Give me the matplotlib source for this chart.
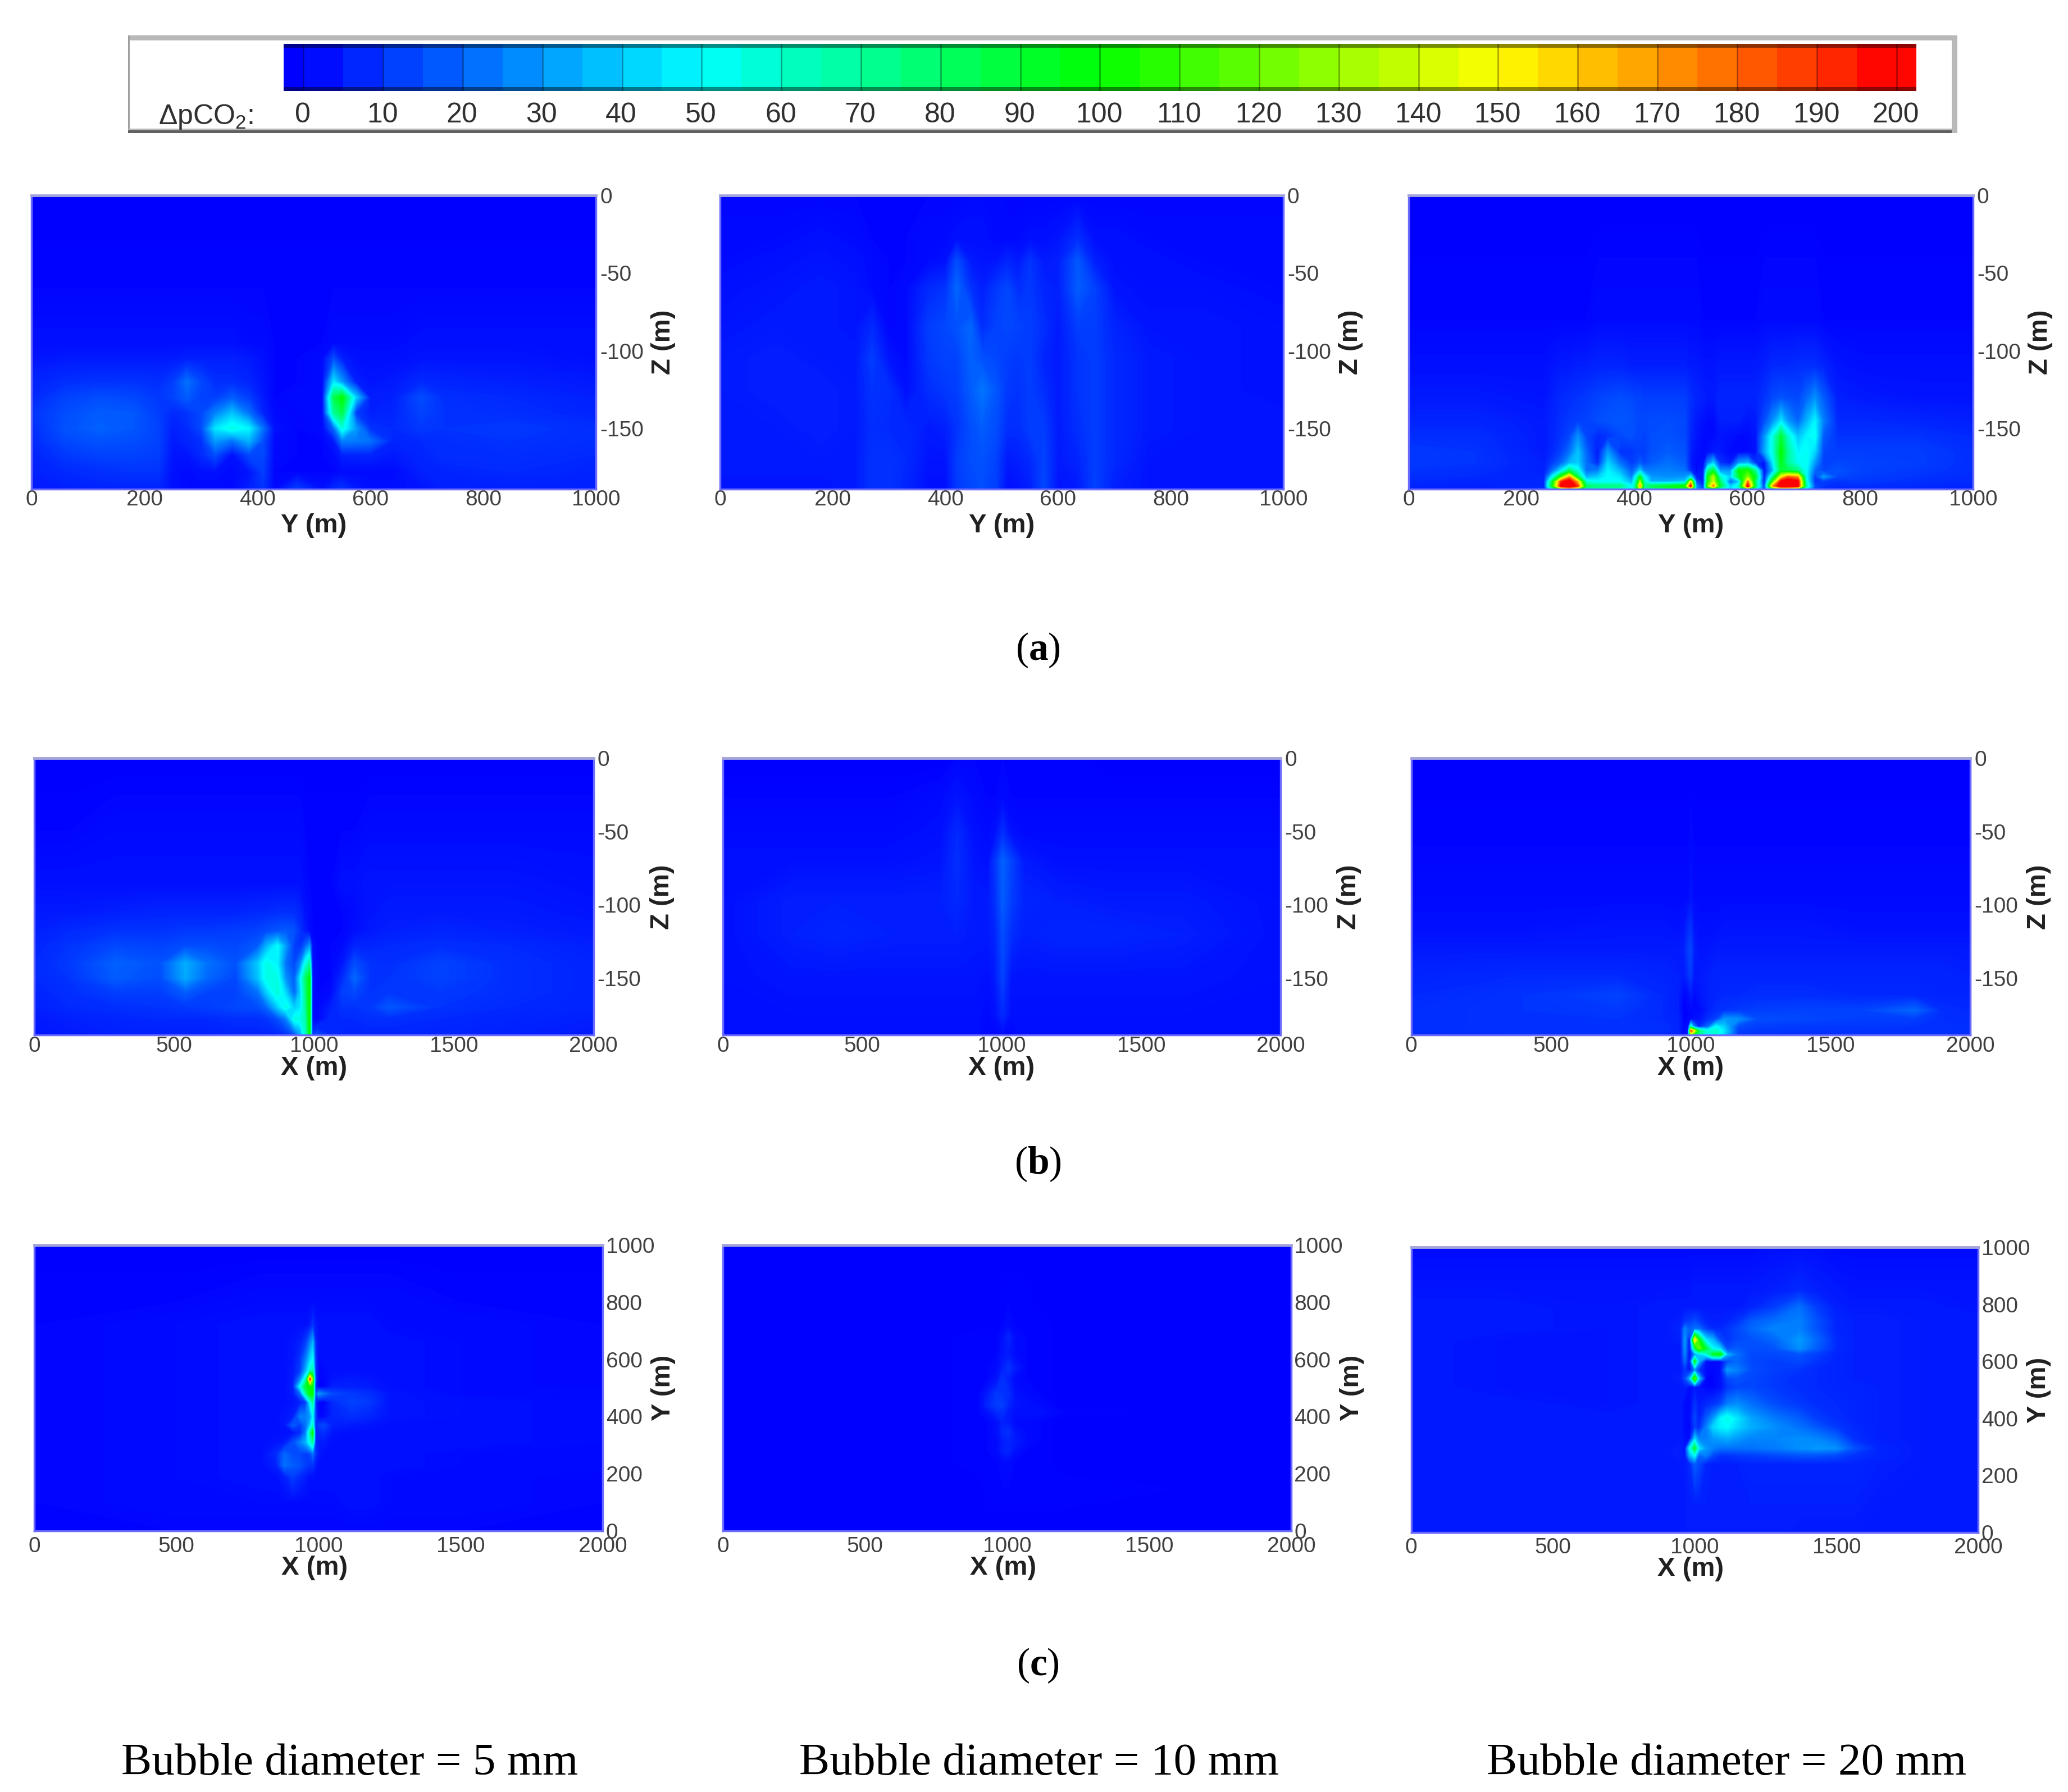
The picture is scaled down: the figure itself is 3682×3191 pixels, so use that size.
import numpy as np
import matplotlib
matplotlib.use("Agg")
import matplotlib.pyplot as plt
from matplotlib.colors import LinearSegmentedColormap
from matplotlib.patches import Rectangle

plt.rcParams['font.family'] = ['Liberation Sans', 'DejaVu Sans']
plt.rcParams['mathtext.fontset'] = 'custom'
plt.rcParams['mathtext.rm'] = 'Liberation Serif'
plt.rcParams['mathtext.bf'] = 'Liberation Serif:bold'
plt.rcParams['mathtext.default'] = 'regular'

# colour bar
bar_edges = np.arange(-2.5, 205, 5)
bar_edges[1:-1] = np.arange(0, 205, 5)[:len(bar_edges) - 2]
bar_ticks = list(range(0, 210, 10))

y_ticks = [0, 200, 400, 600, 800, 1000]
x_ticks = [0, 500, 1000, 1500, 2000]
z_ticks = [0, -50, -100, -150]
z_labels = ['0', '-50', '-100', '-150']

# row (a), bubble 5 mm: Y across, depth down
a1_x = [0, 60, 120, 180, 225, 250, 275, 300, 325, 355, 385, 410, 430, 470, 515, 535, 550, 575, 600, 640, 690, 730, 850, 1000]
a1_z = [0, -60, -95, -105, -120, -130, -140, -150, -158, -167, -178, -189]
a1_v = [
    [0, 0, 0, 0, 0, 0, 0, 0, 0, 0, 0, 0, 0, 0, 0, 0, 0, 0, 0, 0, 0, 0, 0, 0],
    [1, 1, 1, 1, 1, 1, 1, 1, 1, 1, 1, 1, 1, 1, 1, 1, 1, 1, 1, 1, 1, 1, 1, 1],
    [3, 3, 3, 3, 3, 3, 3, 3, 3, 3, 2, 2, 1, 1, 1, 2, 2, 2, 2, 2, 3, 3, 3, 3],
    [4, 5, 5, 5, 5, 5, 6, 6, 6, 6, 5, 3, 1, 1, 2, 15, 6, 3, 3, 3, 4, 4, 4, 3],
    [7, 9, 10, 10, 9, 12, 22, 14, 9, 9, 7, 4, 1, 1, 2, 45, 30, 6, 4, 5, 8, 7, 6, 5],
    [8, 13, 15, 14, 11, 13, 18, 13, 12, 18, 12, 5, 1, 2, 2, 85, 100, 40, 6, 6, 15, 9, 8, 6],
    [10, 15, 18, 17, 12, 8, 10, 14, 25, 38, 22, 7, 2, 1, 2, 70, 85, 12, 6, 7, 13, 10, 9, 7],
    [9, 16, 19, 17, 13, 6, 8, 14, 45, 55, 48, 22, 3, 1, 2, 20, 55, 30, 10, 8, 11, 10, 11, 9],
    [8, 14, 16, 15, 13, 5, 7, 9, 30, 22, 35, 15, 2, 1, 1, 5, 25, 24, 22, 7, 8, 9, 10, 9],
    [7, 11, 13, 13, 12, 4, 4, 8, 15, 3, 14, 14, 2, 1, 1, 2, 6, 7, 7, 5, 7, 9, 9, 8],
    [6, 8, 9, 10, 10, 3, 2, 3, 3, 2, 4, 12, 1, 1, 1, 1, 2, 2, 2, 2, 6, 7, 8, 7],
    [5, 6, 7, 7, 7, 3, 2, 2, 2, 2, 6, 10, 2, 12, 3, 8, 10, 5, 3, 3, 4, 6, 6, 6],
]

# row (a), bubble 10 mm
a2_x = [0, 100, 180, 240, 270, 300, 330, 370, 400, 420, 445, 465, 490, 510, 530, 550, 575, 600, 635, 665, 700, 760, 850, 1000]
a2_z = [0, -28, -42, -60, -85, -105, -125, -150, -170, -189]
a2_v = [
    [1, 1, 1, 1, 1, 1, 1, 1, 1, 1, 2, 2, 2, 1, 1, 1, 1, 1, 1, 1, 1, 1, 1, 1],
    [2, 2, 3, 2, 1, 1, 1, 2, 2, 3, 3, 3, 2, 2, 2, 3, 3, 4, 9, 3, 3, 2, 2, 2],
    [2, 3, 4, 3, 2, 1, 1, 2, 3, 15, 5, 4, 4, 7, 5, 10, 5, 6, 17, 6, 3, 3, 2, 2],
    [3, 4, 5, 4, 2, 1, 2, 8, 10, 20, 10, 6, 11, 14, 9, 11, 7, 6, 18, 13, 4, 3, 3, 2],
    [4, 5, 5, 4, 8, 1, 2, 12, 14, 16, 20, 9, 13, 14, 13, 12, 9, 5, 12, 12, 7, 4, 4, 3],
    [5, 6, 5, 5, 12, 4, 2, 11, 13, 13, 19, 16, 14, 12, 11, 12, 7, 5, 10, 12, 8, 5, 4, 3],
    [5, 6, 6, 5, 10, 9, 3, 9, 11, 12, 18, 23, 17, 11, 10, 12, 9, 5, 10, 12, 8, 5, 4, 3],
    [5, 5, 6, 5, 9, 8, 8, 5, 6, 10, 15, 18, 15, 9, 9, 12, 12, 5, 9, 12, 8, 5, 4, 4],
    [5, 5, 5, 5, 10, 10, 8, 4, 4, 12, 15, 16, 13, 5, 6, 8, 13, 5, 7, 12, 8, 4, 4, 4],
    [4, 4, 4, 5, 10, 10, 7, 3, 3, 11, 14, 15, 12, 3, 4, 6, 14, 4, 5, 13, 6, 4, 4, 4],
]

# row (a), bubble 20 mm
a3_x = [0, 120, 240, 255, 270, 285, 300, 315, 335, 353, 375, 395, 402, 410, 418, 430, 460, 490, 500, 510, 522, 530, 540, 552, 570, 585, 601, 615, 630, 645, 660, 672, 690, 705, 720, 735, 760, 800, 900, 1000]
a3_z = [0, -80, -110, -130, -145, -155, -165, -172, -177, -181, -184, -187, -189]
a3_v = [
    [0, 0, 0, 0, 0, 0, 0, 0, 0, 0, 0, 0, 0, 0, 0, 0, 0, 0, 0, 0, 0, 0, 0, 0, 0, 0, 0, 0, 0, 0, 0, 0, 0, 0, 0, 0, 0, 0, 0, 0],
    [1, 1, 1, 1, 1, 1, 1, 1, 2, 2, 2, 2, 2, 2, 2, 2, 2, 2, 2, 2, 1, 1, 1, 1, 1, 1, 1, 1, 2, 2, 2, 2, 2, 2, 2, 1, 1, 1, 1, 1],
    [3, 3, 3, 4, 5, 5, 6, 6, 7, 7, 7, 6, 6, 6, 6, 6, 6, 6, 5, 5, 4, 4, 4, 5, 5, 5, 5, 5, 6, 8, 8, 8, 9, 9, 9, 7, 4, 3, 3, 3],
    [5, 5, 4, 6, 8, 9, 10, 11, 13, 14, 15, 14, 13, 13, 12, 12, 12, 12, 9, 7, 6, 5, 5, 7, 7, 7, 7, 7, 10, 14, 16, 15, 14, 20, 28, 18, 6, 5, 4, 4],
    [7, 7, 5, 7, 9, 11, 12, 13, 15, 16, 17, 16, 15, 14, 14, 15, 15, 14, 8, 5, 3, 2, 2, 6, 6, 6, 4, 5, 15, 28, 45, 30, 20, 35, 48, 25, 8, 8, 7, 6],
    [9, 9, 5, 7, 10, 14, 28, 14, 8, 10, 14, 16, 14, 14, 13, 15, 16, 14, 7, 4, 2, 2, 2, 4, 3, 2, 2, 4, 28, 55, 90, 60, 38, 48, 52, 18, 10, 10, 10, 8],
    [11, 10, 5, 8, 13, 22, 38, 20, 5, 30, 10, 10, 12, 12, 12, 16, 18, 16, 6, 3, 2, 3, 5, 5, 2, 2, 2, 3, 32, 55, 100, 70, 48, 52, 42, 14, 12, 12, 12, 9],
    [11, 10, 6, 12, 20, 35, 40, 22, 8, 42, 22, 12, 14, 18, 14, 18, 22, 18, 5, 2, 3, 25, 40, 10, 5, 30, 35, 10, 3, 45, 95, 70, 52, 52, 30, 12, 14, 13, 12, 9],
    [10, 9, 6, 22, 45, 80, 55, 22, 25, 48, 35, 18, 25, 40, 25, 24, 25, 22, 8, 2, 5, 70, 90, 30, 30, 100, 105, 70, 3, 35, 90, 85, 75, 50, 20, 14, 16, 13, 11, 9],
    [9, 8, 7, 50, 110, 170, 85, 35, 40, 50, 45, 25, 50, 90, 50, 30, 28, 30, 45, 5, 6, 100, 135, 60, 40, 90, 125, 90, 4, 70, 150, 180, 170, 50, 12, 30, 14, 12, 10, 8],
    [8, 7, 8, 90, 190, 210, 160, 55, 50, 50, 50, 35, 60, 130, 60, 35, 35, 40, 150, 15, 5, 100, 140, 80, 20, 40, 175, 75, 5, 110, 205, 215, 205, 55, 10, 12, 10, 11, 9, 8],
    [7, 6, 8, 100, 205, 215, 190, 80, 75, 75, 75, 50, 70, 170, 70, 85, 95, 105, 205, 30, 10, 120, 175, 90, 40, 60, 205, 80, 10, 170, 215, 215, 205, 65, 15, 10, 8, 9, 8, 7],
    [7, 6, 10, 60, 110, 140, 110, 70, 70, 65, 60, 50, 70, 120, 70, 70, 80, 85, 110, 30, 15, 70, 80, 60, 45, 55, 110, 60, 15, 80, 120, 120, 100, 45, 15, 9, 8, 8, 8, 7],
]

# row (b), bubble 5 mm: X across, depth down
b1_x = [0, 120, 290, 450, 540, 620, 720, 800, 830, 870, 900, 930, 950, 970, 985, 995, 1010, 1060, 1100, 1145, 1200, 1267, 1450, 1700, 2000]
b1_z = [0, -50, -85, -105, -118, -128, -140, -150, -160, -170, -178, -189]
b1_v = [
    [0, 0, 0, 0, 0, 0, 0, 0, 0, 0, 0, 0, 0, 0, 0, 0, 0, 0, 0, 0, 0, 0, 0, 0, 0],
    [1, 1, 2, 2, 2, 2, 2, 2, 2, 2, 2, 2, 2, 1, 1, 1, 1, 1, 1, 1, 2, 2, 2, 2, 2],
    [3, 3, 3, 3, 3, 3, 3, 3, 3, 3, 3, 3, 3, 2, 1, 1, 1, 1, 3, 3, 4, 4, 4, 4, 3],
    [5, 5, 6, 7, 7, 7, 7, 8, 8, 9, 9, 9, 7, 3, 2, 1, 1, 1, 1, 2, 4, 5, 5, 5, 4],
    [6, 8, 10, 10, 11, 11, 12, 13, 15, 17, 18, 16, 10, 5, 2, 1, 1, 1, 1, 3, 5, 6, 7, 6, 5],
    [7, 10, 14, 13, 15, 15, 14, 18, 35, 50, 30, 12, 10, 20, 30, 3, 1, 1, 2, 7, 7, 8, 9, 8, 6],
    [8, 11, 19, 16, 34, 22, 16, 40, 55, 48, 22, 14, 25, 55, 70, 2, 1, 1, 4, 15, 10, 9, 13, 9, 7],
    [8, 10, 18, 15, 33, 20, 14, 38, 55, 55, 28, 18, 45, 80, 100, 3, 1, 1, 8, 20, 10, 10, 13, 9, 7],
    [7, 9, 12, 12, 18, 13, 13, 22, 40, 58, 42, 20, 40, 75, 105, 3, 1, 2, 12, 14, 10, 11, 11, 9, 7],
    [6, 8, 9, 10, 11, 12, 14, 15, 20, 40, 55, 40, 45, 70, 105, 2, 1, 6, 10, 10, 11, 17, 10, 8, 7],
    [5, 6, 7, 8, 8, 8, 9, 9, 10, 15, 25, 55, 55, 65, 105, 3, 1, 8, 8, 8, 9, 9, 8, 7, 6],
    [4, 5, 6, 6, 6, 6, 7, 7, 7, 7, 9, 15, 30, 60, 100, 10, 15, 8, 7, 7, 7, 7, 7, 6, 5],
]

# row (b), bubble 10 mm
b2_x = [0, 250, 400, 600, 780, 840, 900, 950, 975, 1003, 1035, 1080, 1200, 1400, 1650, 2000]
b2_z = [0, -27, -51, -70, -98, -120, -150, -175, -189]
b2_v = [
    [0, 0, 0, 0, 0, 1, 1, 1, 1, 1, 1, 1, 1, 0, 0, 0],
    [1, 1, 1, 1, 2, 4, 2, 1, 1, 2, 1, 1, 1, 1, 1, 1],
    [2, 2, 2, 2, 3, 8, 3, 2, 3, 9, 3, 2, 2, 2, 2, 2],
    [3, 3, 3, 3, 4, 9, 4, 3, 10, 19, 13, 5, 3, 3, 3, 3],
    [3, 6, 6, 6, 6, 8, 5, 5, 9, 18, 12, 7, 6, 5, 5, 3],
    [3, 6, 7, 6, 6, 6, 5, 5, 7, 15, 9, 6, 7, 7, 6, 3],
    [3, 4, 4, 4, 4, 4, 4, 3, 5, 13, 4, 4, 4, 4, 4, 3],
    [3, 3, 3, 3, 3, 3, 3, 2, 3, 8, 3, 3, 3, 3, 3, 3],
    [3, 3, 3, 3, 3, 3, 3, 1, 1, 2, 1, 3, 3, 3, 3, 3],
]

# row (b), bubble 20 mm
b3_x = [0, 400, 740, 900, 955, 975, 990, 1000, 1012, 1030, 1060, 1090, 1120, 1170, 1240, 1400, 1600, 1800, 1900, 2000]
b3_z = [0, -60, -95, -115, -130, -148, -162, -172, -178, -183, -186, -189]
b3_v = [
    [0, 0, 0, 0, 0, 0, 0, 0, 0, 0, 0, 0, 0, 0, 0, 0, 0, 0, 0, 0],
    [1, 1, 1, 1, 1, 1, 1, 2, 1, 1, 1, 1, 1, 1, 1, 1, 1, 1, 1, 1],
    [2, 2, 2, 2, 2, 2, 2, 4, 2, 2, 2, 2, 2, 2, 2, 2, 2, 2, 2, 2],
    [3, 3, 4, 4, 3, 4, 8, 10, 4, 3, 3, 3, 4, 4, 4, 4, 3, 3, 3, 3],
    [5, 5, 5, 5, 5, 6, 12, 14, 6, 4, 4, 5, 5, 5, 5, 5, 5, 5, 5, 5],
    [7, 8, 8, 7, 6, 5, 9, 12, 5, 5, 6, 7, 7, 7, 7, 7, 7, 7, 7, 6],
    [8, 10, 13, 8, 6, 1, 2, 5, 2, 4, 6, 7, 8, 8, 9, 9, 8, 8, 7, 7],
    [9, 10, 11, 8, 6, 0, 1, 2, 2, 2, 6, 9, 10, 11, 12, 13, 13, 20, 9, 8],
    [9, 10, 10, 8, 7, 1, 1, 2, 3, 4, 9, 13, 30, 28, 15, 14, 12, 12, 9, 9],
    [9, 10, 10, 9, 7, 1, 3, 60, 25, 8, 20, 50, 40, 15, 12, 11, 11, 10, 10, 9],
    [9, 10, 10, 9, 7, 1, 5, 190, 150, 80, 55, 60, 45, 12, 11, 10, 10, 10, 10, 9],
    [9, 9, 9, 8, 7, 1, 8, 120, 90, 70, 50, 60, 40, 11, 10, 10, 10, 9, 9, 9],
]

# row (c), bubble 5 mm: plan view
c1_x = [0, 500, 800, 850, 880, 910, 935, 955, 970, 980, 990, 1000, 1020, 1050, 1115, 1180, 1250, 1500, 2000]
c1_y = [1000, 800, 720, 660, 600, 560, 531, 505, 480, 450, 400, 370, 344, 310, 270, 230, 190, 100, 0]
c1_v = [
    [0, 0, 0, 0, 0, 0, 0, 0, 0, 0, 0, 0, 0, 0, 0, 0, 0, 0, 0],
    [1, 1, 2, 2, 2, 2, 2, 2, 2, 2, 2, 2, 2, 2, 2, 2, 2, 1, 1],
    [1, 2, 3, 3, 3, 3, 3, 3, 5, 10, 5, 3, 3, 3, 3, 3, 2, 2, 1],
    [1, 2, 3, 3, 3, 4, 6, 12, 25, 35, 8, 3, 3, 3, 3, 3, 3, 2, 1],
    [1, 2, 3, 3, 3, 4, 10, 25, 42, 50, 10, 2, 3, 3, 3, 3, 3, 2, 1],
    [1, 2, 3, 3, 3, 5, 12, 35, 60, 70, 10, 2, 2, 3, 3, 3, 3, 2, 1],
    [1, 2, 3, 3, 3, 5, 25, 60, 190, 120, 12, 1, 1, 4, 5, 4, 3, 2, 1],
    [1, 2, 3, 3, 3, 6, 50, 90, 100, 100, 8, 1, 1, 6, 6, 5, 3, 2, 1],
    [1, 2, 3, 3, 3, 5, 20, 70, 100, 100, 15, 30, 22, 14, 11, 9, 4, 2, 2],
    [1, 2, 3, 3, 3, 4, 6, 12, 50, 70, 8, 1, 1, 8, 13, 11, 4, 3, 2],
    [1, 2, 3, 3, 4, 6, 25, 25, 30, 48, 12, 1, 2, 7, 9, 7, 4, 3, 2],
    [1, 2, 3, 3, 4, 18, 12, 22, 40, 60, 8, 12, 14, 6, 5, 4, 3, 3, 2],
    [1, 2, 3, 3, 3, 4, 8, 25, 70, 100, 8, 8, 9, 4, 3, 3, 3, 3, 2],
    [1, 2, 3, 4, 5, 15, 25, 35, 55, 70, 8, 5, 5, 3, 3, 3, 3, 3, 2],
    [1, 2, 3, 8, 20, 15, 14, 12, 14, 22, 10, 5, 3, 3, 3, 3, 3, 2, 2],
    [1, 2, 3, 6, 22, 18, 16, 12, 10, 10, 5, 3, 3, 3, 3, 3, 3, 2, 2],
    [1, 2, 3, 3, 6, 12, 8, 5, 3, 3, 3, 3, 3, 3, 3, 3, 2, 2, 1],
    [1, 2, 2, 2, 2, 2, 2, 2, 2, 2, 2, 2, 2, 2, 3, 3, 2, 2, 1],
    [1, 1, 1, 1, 1, 1, 1, 1, 1, 1, 1, 1, 1, 1, 1, 1, 1, 1, 1],
]

# row (c), bubble 10 mm
c2_x = [0, 700, 900, 930, 965, 985, 1005, 1030, 1070, 1120, 1200, 2000]
c2_y = [1000, 800, 720, 680, 620, 570, 530, 480, 440, 415, 380, 347, 310, 280, 240, 150, 0]
c2_v = [
    [0, 0, 0, 0, 0, 0, 0, 0, 0, 0, 0, 0],
    [0, 0, 0, 0, 0, 1, 1, 1, 1, 0, 0, 0],
    [0, 0, 0, 0, 0, 1, 2, 1, 1, 1, 0, 0],
    [0, 0, 1, 1, 1, 3, 7, 2, 1, 1, 0, 0],
    [0, 0, 1, 1, 1, 4, 5, 2, 1, 1, 0, 0],
    [0, 0, 1, 1, 2, 6, 10, 5, 1, 1, 0, 0],
    [0, 0, 1, 1, 4, 10, 6, 2, 1, 1, 0, 0],
    [0, 0, 1, 5, 11, 10, 9, 3, 2, 1, 0, 0],
    [0, 0, 1, 7, 12, 12, 7, 4, 3, 2, 0, 0],
    [0, 0, 1, 3, 8, 9, 5, 3, 3, 3, 1, 0],
    [0, 0, 1, 1, 3, 6, 5, 2, 2, 1, 0, 0],
    [0, 0, 1, 1, 3, 8, 9, 4, 2, 1, 0, 0],
    [0, 0, 1, 1, 2, 5, 7, 5, 2, 1, 0, 0],
    [0, 0, 1, 1, 2, 6, 7, 3, 1, 1, 0, 0],
    [0, 0, 1, 1, 1, 2, 2, 1, 1, 1, 0, 0],
    [0, 0, 0, 1, 1, 1, 1, 1, 1, 1, 1, 0],
    [0, 0, 0, 0, 0, 0, 0, 0, 0, 0, 0, 0],
]

# row (c), bubble 20 mm
c3_x = [0, 300, 700, 900, 950, 965, 982, 1000, 1015, 1040, 1065, 1090, 1115, 1150, 1200, 1280, 1370, 1430, 1500, 1560, 1650, 1800, 2000]
c3_y = [1000, 850, 790, 740, 715, 676, 645, 625, 600, 570, 540, 510, 450, 400, 370, 330, 295, 270, 240, 100, 0]
c3_v = [
    [2, 2, 2, 2, 2, 2, 2, 2, 2, 2, 2, 2, 2, 2, 2, 3, 3, 3, 2, 2, 2, 2, 2],
    [4, 4, 4, 4, 4, 4, 4, 5, 5, 5, 5, 5, 5, 5, 5, 6, 8, 6, 5, 4, 4, 4, 4],
    [5, 5, 4, 5, 5, 5, 5, 5, 5, 5, 5, 5, 5, 5, 7, 12, 22, 12, 6, 5, 5, 5, 4],
    [5, 5, 4, 5, 6, 10, 12, 15, 12, 7, 6, 6, 7, 10, 18, 22, 25, 16, 7, 6, 6, 5, 5],
    [5, 5, 4, 5, 7, 25, 18, 22, 22, 12, 8, 8, 10, 14, 20, 26, 25, 16, 7, 6, 6, 5, 5],
    [5, 4, 4, 5, 6, 30, 2, 160, 100, 45, 35, 15, 10, 14, 16, 20, 30, 20, 8, 6, 6, 5, 5],
    [5, 4, 4, 5, 5, 28, 2, 80, 120, 90, 50, 42, 15, 18, 15, 16, 28, 18, 8, 6, 6, 5, 5],
    [5, 4, 4, 5, 5, 25, 1, 30, 40, 55, 95, 100, 35, 22, 14, 14, 16, 12, 7, 6, 6, 5, 5],
    [5, 4, 4, 5, 5, 20, 2, 95, 35, 3, 2, 2, 15, 20, 14, 12, 14, 10, 7, 6, 6, 5, 5],
    [5, 4, 4, 5, 5, 10, 3, 25, 10, 2, 1, 3, 30, 25, 15, 12, 10, 8, 7, 6, 6, 5, 5],
    [5, 4, 4, 5, 6, 14, 35, 120, 40, 1, 1, 3, 14, 16, 14, 11, 9, 8, 7, 6, 6, 5, 5],
    [5, 4, 4, 5, 5, 6, 2, 5, 4, 1, 1, 3, 10, 14, 14, 11, 9, 8, 7, 7, 6, 5, 5],
    [5, 5, 4, 5, 5, 2, 1, 10, 5, 8, 10, 14, 25, 28, 22, 15, 11, 9, 8, 7, 6, 5, 5],
    [5, 5, 5, 5, 5, 2, 2, 14, 6, 18, 30, 48, 55, 45, 32, 24, 18, 12, 9, 7, 6, 5, 5],
    [5, 5, 5, 5, 5, 2, 1, 12, 8, 25, 42, 48, 50, 42, 34, 28, 22, 17, 11, 8, 6, 5, 5],
    [5, 5, 5, 5, 5, 3, 2, 40, 25, 25, 30, 32, 34, 30, 26, 26, 28, 26, 20, 9, 6, 5, 5],
    [5, 5, 5, 5, 6, 4, 50, 90, 45, 30, 25, 22, 22, 22, 22, 24, 28, 30, 28, 16, 7, 5, 5],
    [5, 5, 5, 5, 6, 4, 35, 50, 20, 25, 14, 10, 10, 11, 12, 14, 16, 16, 14, 10, 7, 5, 5],
    [5, 5, 5, 5, 5, 5, 8, 18, 14, 7, 6, 6, 6, 6, 7, 7, 7, 7, 7, 7, 6, 5, 5],
    [5, 5, 5, 5, 5, 5, 6, 6, 6, 6, 6, 6, 6, 6, 6, 6, 6, 6, 6, 6, 5, 5, 5],
    [5, 5, 5, 5, 5, 5, 6, 6, 6, 6, 6, 6, 6, 6, 6, 6, 5, 5, 5, 5, 5, 5, 5],
]

W, H = 3682, 3191
S = W / 1568

cmap = LinearSegmentedColormap.from_list('dpco2', ['#0000ff', '#00ffff', '#00ff00', '#ffff00', '#ff0000'], N=512)
levels = np.arange(0, 200.5, 0.5)

fig = plt.figure(figsize=(W / 100, H / 100), dpi=100, facecolor='white')


def box(x0, y0, x1, y1):
    return [x0 * S / W, 1 - y1 * S / H, (x1 - x0) * S / W, (y1 - y0) * S / H]


def fig_text(x, y, s, **kw):
    fig.text(x * S / W, 1 - y * S / H, s, ha='center', va='center', **kw)


def fig_rect(x0, y0, x1, y1, color):
    b = box(x0, y0, x1, y1)
    fig.add_artist(Rectangle((b[0], b[1]), b[2], b[3], transform=fig.transFigure, color=color, lw=0))


# legend frame
fig_rect(97, 27, 1484, 30.5, '#b8b8b8')
fig_rect(97, 27, 98.5, 100.5, '#a0a0a0')
fig_rect(97, 97.5, 1484, 99, '#b8b8b8')
fig_rect(97, 99, 1484, 100.8, '#606060')
fig_rect(1480, 27, 1484, 100.8, '#b8b8b8')

ax_bar = fig.add_axes(box(215, 33.2, 1453, 69))
bar_mid = (bar_edges[:-1] + bar_edges[1:]) / 2
ax_bar.pcolormesh(bar_edges, [0, 1], [bar_mid], cmap=cmap, vmin=0, vmax=200)
ax_bar.vlines(bar_ticks, 0, 1, color='black', alpha=0.35, lw=1.8)
ax_bar.axhspan(0, 0.08, color='black', alpha=0.45, lw=0)
ax_bar.axhspan(0.92, 1, color='black', alpha=0.45, lw=0)
ax_bar.set_xlim(bar_edges[0], bar_edges[-1])
ax_bar.set_ylim(0, 1)
ax_bar.axis('off')

bar_pos = 229.5 + np.array(bar_ticks) * 6.04
for t, px in zip(bar_ticks, bar_pos):
    fig_text(px, 87.5, str(t), fontsize=36, color='#303030')
fig_text(156, 88.5, 'ΔpCO$_{2}$:', fontsize=36, color='#303030')

panels = [
    (a1_x, a1_z, a1_v, (24, 148, 452, 371), 'Y (m)', 'Z (m)', 398.5, 51),
    (a2_x, a2_z, a2_v, (546, 148, 973, 371), 'Y (m)', 'Z (m)', 398.5, 51),
    (a3_x, a3_z, a3_v, (1068, 148, 1496, 371), 'Y (m)', 'Z (m)', 398.5, 51),
    (b1_x, b1_z, b1_v, (26, 575, 450, 785), 'X (m)', 'Z (m)', 810, 52),
    (b2_x, b2_z, b2_v, (548, 575, 971, 785), 'X (m)', 'Z (m)', 810, 52),
    (b3_x, b3_z, b3_v, (1070, 575, 1494, 785), 'X (m)', 'Z (m)', 810, 52),
    (c1_x, c1_y, c1_v, (26, 944, 457, 1161), 'X (m)', 'Y (m)', 1189, 46),
    (c2_x, c2_y, c2_v, (548, 944, 979, 1161), 'X (m)', 'Y (m)', 1189, 46),
    (c3_x, c3_y, c3_v, (1070, 946, 1500, 1162), 'X (m)', 'Y (m)', 1190, 46),
]

for i, (xs, ys, vals, pos, xlab, ylab, xlab_y, ylab_dx) in enumerate(panels):
    x0, y0, x1, y1 = pos
    ax = fig.add_axes(box(x0, y0, x1, y1))
    ax.contourf(xs, ys, np.array(vals, dtype=float), levels=levels, cmap=cmap, vmin=0, vmax=200, extend='both')

    top_row = i < 6
    if i < 3:
        ax.set_xticks([0, 200, 400, 600, 800, 1000])
        ax.set_xticklabels(['0', '200', '400', '600', '800', '1000'])
        ax.set_xlim(0, 1000)
    else:
        ax.set_xticks(x_ticks)
        ax.set_xticklabels([str(v) for v in x_ticks])
        ax.set_xlim(0, 2000)
    ax.yaxis.tick_right()
    if top_row:
        ax.set_yticks(z_ticks)
        ax.set_yticklabels(z_labels)
        ax.set_ylim(-189, 0)
    else:
        ax.set_yticks(y_ticks)
        ax.set_yticklabels([str(v) for v in y_ticks])
        ax.set_ylim(0, 1000)

    pad_x = 0.5 if i < 3 else (1.5 if i < 6 else 7)
    pad_y = 5 if top_row else 4
    ax.tick_params(axis='x', length=0, labelsize=28, labelcolor='#404040', pad=pad_x)
    ax.tick_params(axis='y', length=0, labelsize=28, labelcolor='#404040', pad=pad_y)

    for side in ['left', 'right', 'bottom']:
        ax.spines[side].set_color('#6a6aff')
        ax.spines[side].set_linewidth(2.5)
    ax.spines['top'].set_color('#a4a4dc')
    ax.spines['top'].set_linewidth(3.5)

    fig_text((x0 + x1) / 2 + (0 if i < 6 else -3), xlab_y, xlab, fontsize=34, fontweight='bold', color='#202020')
    fig_text(x1 + ylab_dx, (y0 + y1) / 2, ylab, fontsize=34, fontweight='bold', color='#202020', rotation=90)

serif = ['Liberation Serif', 'DejaVu Serif']
fig_text(787, 493, r'($\mathbf{a}$)', fontsize=50, family=serif, color='black')
fig_text(787, 883, r'($\mathbf{b}$)', fontsize=50, family=serif, color='black')
fig_text(787, 1263, r'($\mathbf{c}$)', fontsize=50, family=serif, color='black')
fig_text(265, 1337.5, 'Bubble diameter = 5 mm', fontsize=58.5, family=serif, color='black')
fig_text(788, 1337.5, 'Bubble diameter = 10 mm', fontsize=58.5, family=serif, color='black')
fig_text(1309, 1337.5, 'Bubble diameter = 20 mm', fontsize=58.5, family=serif, color='black')

fig.savefig('out.png', dpi=100)
